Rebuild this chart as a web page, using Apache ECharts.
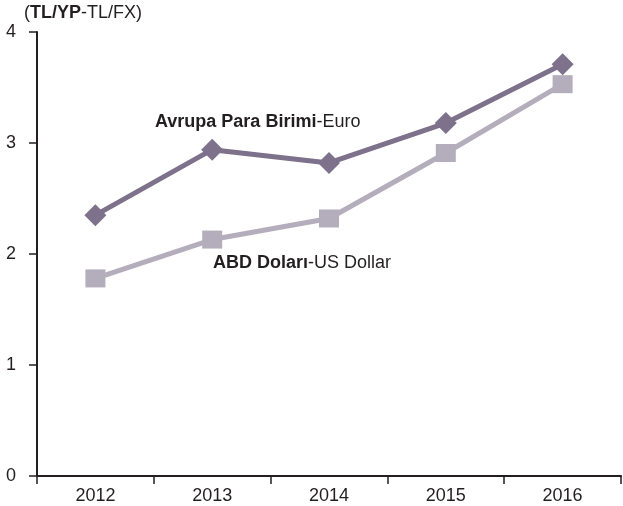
<!DOCTYPE html>
<html>
<head>
<meta charset="utf-8">
<script src="https://cdn.jsdelivr.net/npm/echarts@6/dist/echarts.min.js"></script>
<style>html,body{margin:0;padding:0;background:#fff;}#c{width:623px;height:506px;}</style>
</head>
<body>
<div id="c"></div>
<script>
var years = ['2012', '2013', '2014', '2015', '2016'];
var euro = [2.35, 2.94, 2.82, 3.18, 3.71];
var usd = [1.78, 2.13, 2.32, 2.91, 3.53];
var yTicks = [0, 1, 2, 3, 4];

var chart = echarts.init(document.getElementById('c'), null, {renderer: 'canvas'});
var font = 'Liberation Sans, Arial, sans-serif';
var fs = 18;
function richStyle(txt) {
  return {
    text: txt, fill: '#231f20', font: fs + 'px ' + font,
    rich: {b: {fontWeight: 'bold', fontSize: fs, fontFamily: font, fill: '#231f20'}}
  };
}
chart.setOption({
  animation: false,
  backgroundColor: '#fff',
  grid: {left: 37, right: 2, top: 32, bottom: 30},
  xAxis: {
    type: 'category',
    data: years,
    boundaryGap: true,
    axisLine: {lineStyle: {color: '#231f20', width: 2}},
    axisTick: {show: true, length: 8, lineStyle: {color: '#231f20', width: 1.5}},
    axisLabel: {color: '#231f20', fontSize: fs, fontFamily: font, margin: 11}
  },
  yAxis: {
    type: 'value',
    min: yTicks[0],
    max: yTicks[yTicks.length - 1],
    interval: 1,
    splitLine: {show: false},
    axisLine: {show: true, lineStyle: {color: '#231f20', width: 2}},
    axisTick: {show: true, length: 8, lineStyle: {color: '#231f20', width: 1.5}},
    axisLabel: {color: '#231f20', fontSize: fs, fontFamily: font, margin: 21}
  },
  graphic: [
    {type: 'text', left: 24, top: 4, style: richStyle('({b|TL/YP}-TL/FX)')},
    {type: 'text', left: 155, top: 113, style: richStyle('{b|Avrupa Para Birimi}-Euro')},
    {type: 'text', left: 213, top: 254, style: richStyle('{b|ABD Dolar\u0131}-US Dollar')}
  ],
  series: [
    {
      name: 'USD', type: 'line', data: usd,
      symbol: 'rect', symbolSize: [20, 18],
      lineStyle: {color: '#b4aebc', width: 5},
      itemStyle: {color: '#b4aebc'},
      z: 2
    },
    {
      name: 'Euro', type: 'line', data: euro,
      symbol: 'diamond', symbolSize: [22, 22],
      lineStyle: {color: '#7d718b', width: 5},
      itemStyle: {color: '#7d718b'},
      z: 3
    }
  ]
});
</script>
</body>
</html>
